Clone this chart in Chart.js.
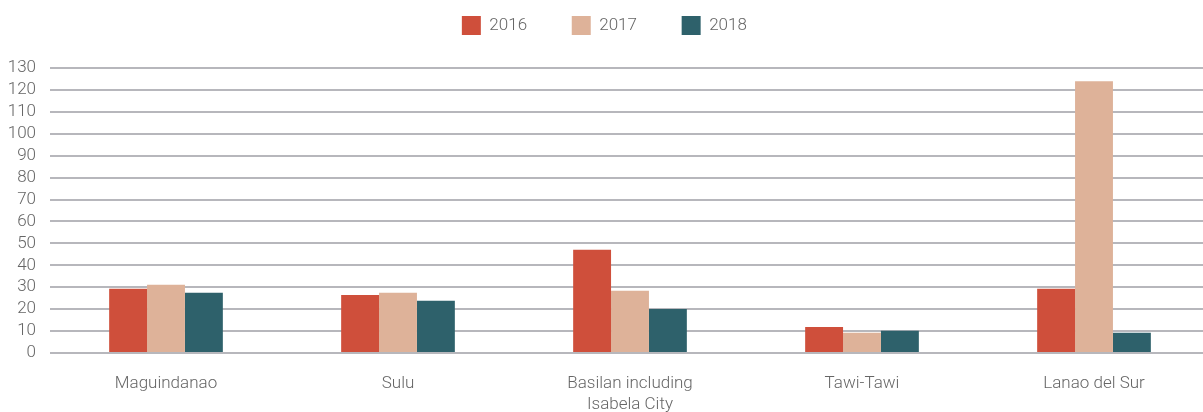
<!DOCTYPE html>
<html>
<head>
<meta charset="utf-8">
<script src="https://cdn.jsdelivr.net/npm/chart.js@4.4.1/dist/chart.umd.min.js"></script>
<style>
  html, body { margin: 0; padding: 0; background: #fff; overflow: hidden; }
  #wrap { width: 1203px; height: 412px; overflow: hidden; }
</style>
</head>
<body>
<!-- the plot area runs a little past the right edge in the original, so the canvas is wider than the page -->
<div id="wrap"><canvas id="myChart" width="1210" height="412"></canvas></div>
<script>
// regions along the x axis
const regions = ['Maguindanao', 'Sulu', ['Basilan including', 'Isabela City'], 'Tawi-Tawi', 'Lanao del Sur'];

// values
const values2016 = [29.3, 26.5, 47.1, 11.9, 29.3];
const values2017 = [31.1, 27.5, 28.4, 9.2, 124];
const values2018 = [27.5, 23.8, 20.1, 10.1, 9.2];

const yMax = 130;
const yStep = 10;

const textColor = '#666666';
const gridColor = '#b7b7bc';

Chart.defaults.font.family = 'Roboto';
Chart.defaults.font.weight = '300';
Chart.defaults.font.size = 17;
Chart.defaults.color = textColor;

// the legend uses one padding value for both directions, so widen the
// items with trailing spaces and add the missing gap under it by hand
const legendGap = {
    id: 'legendGap',
    beforeLayout(chart) {
        const legend = chart.legend;
        if (legend && !legend._gapPatched) {
            const fit = legend.fit;
            legend.fit = function() {
                fit.call(this);
                this.height += 23;
            };
            legend._gapPatched = true;
        }
    }
};

const ctx = document.getElementById('myChart').getContext('2d');
new Chart(ctx, {
    type: 'bar',
    data: {
        labels: regions,
        datasets: [{
            label: '2016',
            data: values2016,
            backgroundColor: '#cf4f3b'
        }, {
            label: '2017',
            data: values2017,
            backgroundColor: '#deb299'
        }, {
            label: '2018',
            data: values2018,
            backgroundColor: '#2e616b'
        }]
    },
    plugins: [legendGap],
    options: {
        responsive: false,
        animation: false,
        layout: {
            padding: { left: 7, right: 0, top: 6, bottom: 0 }
        },
        datasets: {
            bar: {
                barPercentage: 1.0,
                categoryPercentage: 0.49
            }
        },
        plugins: {
            legend: {
                position: 'top',
                labels: {
                    boxWidth: 19,
                    boxHeight: 19,
                    padding: 10,
                    color: textColor,
                    generateLabels: chart => {
                        const items = Chart.defaults.plugins.legend.labels.generateLabels(chart);
                        items.forEach((item, i) => {
                            item.text = item.text + (i < items.length - 1 ? '\u2003\u2003' : '  ');
                        });
                        return items;
                    }
                }
            },
            tooltip: { enabled: false }
        },
        scales: {
            x: {
                grid: { display: false, drawTicks: false },
                border: { display: false },
                afterFit: scale => { scale.height = 59; },
                ticks: {
                    padding: 21,
                    maxRotation: 0,
                    autoSkip: false
                }
            },
            y: {
                min: 0,
                max: yMax,
                grid: {
                    color: gridColor,
                    lineWidth: 2,
                    drawTicks: false
                },
                border: { display: false },
                afterFit: scale => { scale.width = 43; },
                ticks: {
                    stepSize: yStep,
                    autoSkip: false,
                    padding: 14
                }
            }
        }
    }
});
</script>
</body>
</html>
